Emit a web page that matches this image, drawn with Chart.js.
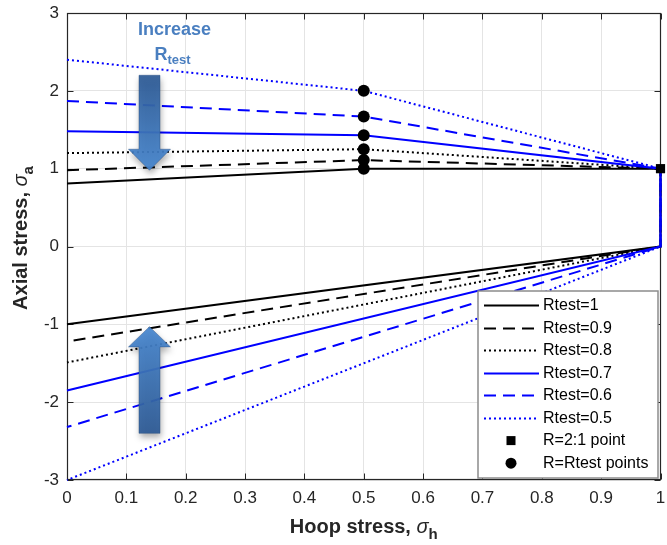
<!DOCTYPE html>
<html><head><meta charset="utf-8">
<script src="https://cdn.jsdelivr.net/npm/chart.js@4.4.0/dist/chart.umd.min.js"></script>
<style>html,body{margin:0;padding:0;background:#fff;} canvas{display:block}</style>
</head><body>
<div style="width:667px;height:545px;position:relative"><canvas id="c" width="667" height="545"></canvas></div>
<script>
// ---- data ----
const seriesNames   = ['Rtest=1', 'Rtest=0.9', 'Rtest=0.8', 'Rtest=0.7', 'Rtest=0.6', 'Rtest=0.5'];
const hoopPath      = [0, 0.5, 1, 1, 0];              // hoop stress along each envelope
const upperStart    = [0.81, 0.98, 1.2, 1.48, 1.87, 2.4];   // axial at hoop=0 (upper branch)
const rtestAxial    = [1.0, 1.11, 1.25, 1.43, 1.67, 2.0];   // axial at hoop=0.5 (R=Rtest points)
const cornerAxial   = [1, 0];                          // axial at hoop=1 (top, bottom)
const lowerStart    = [-1.0, -1.22, -1.49, -1.85, -2.32, -3.0]; // axial at hoop=0 (lower branch)
const rtestHoop     = 0.5;
const ratioPoint    = [1, 1];                          // R=2:1 point (hoop, axial)
const xTickLabels   = ['0','0.1','0.2','0.3','0.4','0.5','0.6','0.7','0.8','0.9','1'];
const yTickLabels   = ['-3','-2','-1','0','1','2','3'];

// ---- styles ----
const colors = ['#000000','#000000','#000000','#0000ff','#0000ff','#0000ff'];
const dashes = [[], [12,7], [2,3], [], [12,7], [2,3]];
const widths = [2, 2, 2, 2, 2, 2];

const datasets = seriesNames.map((name, k) => {
  const ys = [upperStart[k], rtestAxial[k], cornerAxial[0], cornerAxial[1], lowerStart[k]];
  return {
    label: name,
    data: hoopPath.map((x, i) => ({x: x, y: ys[i]})),
    order: 20 - k,   // later series drawn on top
    showLine: true, borderColor: colors[k], borderWidth: widths[k], borderDash: dashes[k],
    pointRadius: 0, fill: false, tension: 0, borderCapStyle: 'butt', borderJoinStyle: 'miter', clip: false
  };
});
datasets.push({
  label: 'R=2:1 point', data: [{x: ratioPoint[0], y: ratioPoint[1]}], clip: false, order: 1,
  showLine: false, pointStyle: 'rect', pointRadius: 6.5, backgroundColor: '#000', borderColor: '#000', borderWidth: 0
});
datasets.push({
  label: 'R=Rtest points', data: rtestAxial.map(v => ({x: rtestHoop, y: v})), clip: false, order: 0,
  showLine: false, pointStyle: 'circle', pointRadius: 6, backgroundColor: '#000', borderColor: '#000', borderWidth: 0
});

const FONT = "'Liberation Sans', Arial, sans-serif";
const TXT = '#262626';

function drawArrow(ctx, xs, ys, cx, tail, base, tip, shaftHalf, headHalf) {
  const px = xs.getPixelForValue(cx);
  const pTail = ys.getPixelForValue(tail), pBase = ys.getPixelForValue(base), pTip = ys.getPixelForValue(tip);
  const grad = ctx.createLinearGradient(0, pTail, 0, pTip);
  grad.addColorStop(0, '#2d5a95');
  grad.addColorStop(1, '#4787d0');
  ctx.save();
  ctx.globalAlpha = 0.93;
  ctx.shadowColor = 'rgba(0,0,0,0.35)';
  ctx.shadowBlur = 6; ctx.shadowOffsetX = 1; ctx.shadowOffsetY = 4;
  ctx.beginPath();
  ctx.moveTo(px - shaftHalf, pTail);
  ctx.lineTo(px + shaftHalf, pTail);
  ctx.lineTo(px + shaftHalf, pBase);
  ctx.lineTo(px + headHalf, pBase);
  ctx.lineTo(px, pTip);
  ctx.lineTo(px - headHalf, pBase);
  ctx.lineTo(px - shaftHalf, pBase);
  ctx.closePath();
  ctx.fillStyle = grad;
  ctx.fill();
  ctx.shadowColor = 'transparent';
  ctx.strokeStyle = 'rgba(40,80,130,0.6)';
  ctx.lineWidth = 0.8;
  ctx.stroke();
  ctx.restore();
}

function drawPieces(ctx, pieces, x, y) {
  let cx = x;
  pieces.forEach(p => { ctx.font = p[1]; ctx.fillText(p[0], cx, y + p[2]); cx += ctx.measureText(p[0]).width; });
}
function piecesWidth(ctx, pieces) {
  let w = 0; pieces.forEach(p => { ctx.font = p[1]; w += ctx.measureText(p[0]).width; }); return w;
}

const decor = {
  id: 'decor',
  beforeDatasetsDraw(chart) {
    // frame and inward ticks (under the data, like MATLAB's default layer)
    const ctx = chart.ctx, ca = chart.chartArea;
    const xs = chart.scales.x, ys = chart.scales.y;
    ctx.save();
    ctx.strokeStyle = TXT; ctx.lineWidth = 1;
    const L = Math.round(ca.left) + 0.5, R = Math.round(ca.right) - 0.5;
    const T = Math.round(ca.top) + 0.5, B = Math.round(ca.bottom) - 0.5;
    ctx.beginPath();
    xs.ticks.forEach(t => {
      const p = Math.round(xs.getPixelForValue(t.value)) + 0.5;
      ctx.moveTo(p, B); ctx.lineTo(p, B - 6);
      ctx.moveTo(p, T); ctx.lineTo(p, T + 6);
    });
    ys.ticks.forEach(t => {
      const p = Math.round(ys.getPixelForValue(t.value)) + 0.5;
      ctx.moveTo(L, p); ctx.lineTo(L + 6, p);
      ctx.moveTo(R, p); ctx.lineTo(R - 6, p);
    });
    ctx.stroke();
    ctx.lineWidth = 1.2;
    ctx.strokeRect(L, T, R - L, B - T);
    ctx.restore();
  },
  afterDraw(chart) {
    const ctx = chart.ctx, ca = chart.chartArea;
    const xs = chart.scales.x, ys = chart.scales.y;

    // x tick labels
    ctx.save();
    ctx.fillStyle = TXT; ctx.font = '17px ' + FONT;
    ctx.textAlign = 'center'; ctx.textBaseline = 'middle';
    xs.ticks.forEach((t, i) => ctx.fillText(xTickLabels[i], xs.getPixelForValue(t.value), 498));
    ctx.restore();

    // arrows
    drawArrow(ctx, xs, ys, 0.139, 2.2, 1.25, 0.98, 10.5, 21);
    drawArrow(ctx, xs, ys, 0.139, -2.4, -1.29, -1.03, 10.5, 21);

    // "Increase Rtest" text
    ctx.save();
    ctx.fillStyle = '#4a7fc0';
    ctx.textBaseline = 'alphabetic';
    ctx.textAlign = 'left';
    ctx.font = 'bold 18px ' + FONT;
    const w1 = ctx.measureText('Increase').width;
    ctx.fillText('Increase', 174.5 - w1 / 2, 35);
    const rp = [['R', 'bold 18px ' + FONT, 0], ['test', 'bold 13px ' + FONT, 4]];
    const w2 = piecesWidth(ctx, rp);
    drawPieces(ctx, rp, 172.5 - w2 / 2, 60);
    ctx.restore();

    // legend
    ctx.save();
    const bx = 478, by = 291, bw = 180, bh = 187;
    ctx.fillStyle = '#fff';
    ctx.fillRect(bx, by, bw, bh);
    ctx.strokeStyle = '#8c8c8c'; ctx.lineWidth = 1.5;
    ctx.strokeRect(bx, by, bw, bh);
    const rowY0 = 305, rowH = 22.6;
    ctx.font = '16px ' + FONT;
    ctx.textBaseline = 'middle';
    ctx.fillStyle = '#000';
    seriesNames.forEach((name, k) => {
      const y = Math.round(rowY0 + k * rowH) + 0.5;
      ctx.save();
      ctx.strokeStyle = colors[k]; ctx.lineWidth = widths[k]; ctx.setLineDash(dashes[k]); ctx.lineCap = 'butt';
      ctx.beginPath(); ctx.moveTo(484, y); ctx.lineTo(539, y); ctx.stroke();
      ctx.restore();
      ctx.fillText(name, 543, y);
    });
    let y6 = rowY0 + 6 * rowH, y7 = rowY0 + 7 * rowH;
    ctx.fillRect(511 - 4.5, y6 - 4.5, 9, 9);
    ctx.beginPath(); ctx.arc(511, y7, 5.5, 0, Math.PI * 2); ctx.fill();
    ctx.fillText('R=2:1 point', 543, y6);
    ctx.fillText('R=Rtest points', 543, y7);
    ctx.restore();

    // axis titles
    ctx.save();
    ctx.fillStyle = TXT;
    ctx.textBaseline = 'alphabetic';
    ctx.textAlign = 'left';
    const xt = [['Hoop stress, ', 'bold 20px ' + FONT, 0], ['\u03C3', 'italic 20px ' + FONT, 0], ['h', 'bold 15px ' + FONT, 6]];
    const wx = piecesWidth(ctx, xt);
    drawPieces(ctx, xt, (ca.left + ca.right) / 2 - wx / 2, 533);
    const yt = [['Axial stress, ', 'bold 20px ' + FONT, 0], ['\u03C3', 'italic 20px ' + FONT, 0], ['a', 'bold 15px ' + FONT, 6]];
    const wy = piecesWidth(ctx, yt);
    ctx.translate(27, 238);
    ctx.rotate(-Math.PI / 2);
    drawPieces(ctx, yt, -wy / 2, 0);
    ctx.restore();
  }
};

new Chart(document.getElementById('c'), {
  type: 'scatter',
  data: { datasets: datasets },
  options: {
    responsive: false, animation: false, devicePixelRatio: 1,
    layout: { padding: { top: 13, right: 4, left: 0, bottom: 0 } },
    plugins: { legend: { display: false }, tooltip: { enabled: false } },
    scales: {
      x: {
        type: 'linear', min: 0, max: 1,
        ticks: { stepSize: 0.1, display: false },
        grid: { color: '#e4e4e4', drawTicks: false, lineWidth: 1 },
        border: { display: false },
        afterFit: s => { s.height = 65; s.paddingLeft = 0; s.paddingRight = 0; }
      },
      y: {
        type: 'linear', min: -3, max: 3,
        ticks: { stepSize: 1, padding: 8, color: TXT, font: { family: FONT, size: 17 },
                 callback: (v, i) => yTickLabels[i] },
        grid: { color: '#e4e4e4', drawTicks: false, lineWidth: 1 },
        border: { display: false },
        afterFit: s => { s.width = 67; s.paddingTop = 0; s.paddingBottom = 0; }
      }
    }
  },
  plugins: [decor]
});
</script>
</body></html>
